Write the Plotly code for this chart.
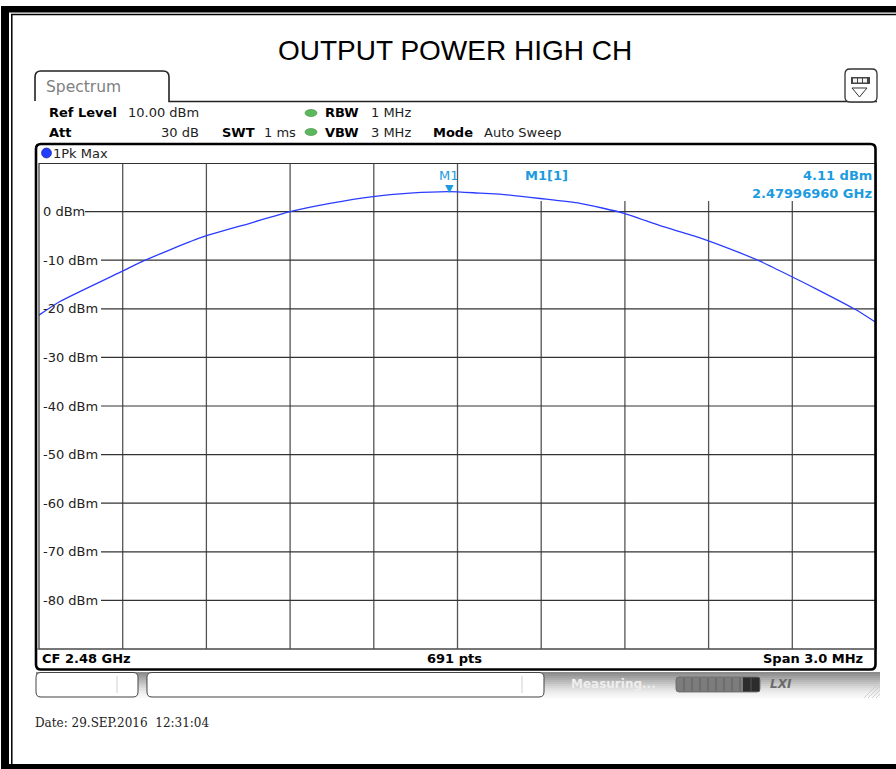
import plotly.graph_objects as go

# ---------------- data ----------------
freq_ghz = [2.478500, 2.478575, 2.478801, 2.478873, 2.479077, 2.479256, 2.479400,
            2.479543, 2.479697, 2.479830, 2.479970, 2.480081, 2.480152, 2.480296,
            2.480439, 2.480597, 2.480726, 2.480869, 2.481013, 2.481084, 2.481195,
            2.481299, 2.481425, 2.481500]
level_dbm = [-21.3, -18.5, -12.2, -10.2, -5.4, -2.4, 0.0,
             1.7, 3.1, 3.8, 4.11, 3.8, 3.6, 2.7,
             1.7, -0.35, -2.9, -5.4, -8.5, -10.2, -13.3,
             -16.3, -20.1, -22.8]
marker_freq_ghz = 2.47996960
marker_level_dbm = 4.11
y_tick_values = [0, -10, -20, -30, -40, -50, -60, -70, -80]
y_tick_labels = ["0 dBm", "-10 dBm", "-20 dBm", "-30 dBm", "-40 dBm",
                 "-50 dBm", "-60 dBm", "-70 dBm", "-80 dBm"]
x_grid_ghz = [2.4788, 2.4791, 2.4794, 2.4797, 2.4800, 2.4803, 2.4806, 2.4809, 2.4812]
x_range = [2.4785, 2.4815]
y_range = [-90, 10]

# ---------------- geometry helpers ----------------
W, H = 896, 769
L, R, T, B = 39, 876, 163, 649


def X(px):
    return (px - L) / (R - L)


def Y(py):
    return (B - py) / (B - T)


fig = go.Figure()

fig.add_trace(go.Scatter(
    x=freq_ghz, y=level_dbm, mode="lines",
    line=dict(color="#2b3cff", width=1.3, shape="spline", smoothing=0.6),
    hoverinfo="skip", showlegend=False))

shapes = []


def line(x0, y0, x1, y1, color="#000", width=1, layer="above"):
    shapes.append(dict(type="line", xref="paper", yref="paper",
                       x0=X(x0), y0=Y(y0), x1=X(x1), y1=Y(y1),
                       line=dict(color=color, width=width), layer=layer))


def rect(x0, y0, x1, y1, fill=None, color=None, width=0, layer="above"):
    shapes.append(dict(type="rect", xref="paper", yref="paper",
                       x0=X(x0), y0=Y(y0), x1=X(x1), y1=Y(y1),
                       fillcolor=fill if fill else "rgba(0,0,0,0)",
                       line=dict(color=color if color else "rgba(0,0,0,0)", width=width),
                       layer=layer))


def circle(x0, y0, x1, y1, fill, color, width=0.6):
    shapes.append(dict(type="circle", xref="paper", yref="paper",
                       x0=X(x0), y0=Y(y0), x1=X(x1), y1=Y(y1),
                       fillcolor=fill, line=dict(color=color, width=width), layer="above"))


def P(x, y):
    return f"{X(x):.6f},{Y(y):.6f}"


def rpath(x0, y0, x1, y1, r, color="#000", width=1, fill=None, layer="above"):
    d = (f"M {P(x0 + r, y0)} L {P(x1 - r, y0)} Q {P(x1, y0)} {P(x1, y0 + r)} "
         f"L {P(x1, y1 - r)} Q {P(x1, y1)} {P(x1 - r, y1)} "
         f"L {P(x0 + r, y1)} Q {P(x0, y1)} {P(x0, y1 - r)} "
         f"L {P(x0, y0 + r)} Q {P(x0, y0)} {P(x0 + r, y0)} Z")
    shapes.append(dict(type="path", xref="paper", yref="paper", path=d,
                       fillcolor=fill if fill else "rgba(0,0,0,0)",
                       line=dict(color=color, width=width), layer=layer))


def path(pts, color="#000", width=1, fill=None, closed=False):
    d = "M " + " L ".join(P(x, y) for x, y in pts) + (" Z" if closed else "")
    shapes.append(dict(type="path", xref="paper", yref="paper", path=d,
                       fillcolor=fill if fill else "rgba(0,0,0,0)",
                       line=dict(color=color, width=width), layer="above"))


# ---- outer frame ----
rect(1, 6, 896, 12.5, fill="#000")
line(11, 14.5, 896, 14.5, "#000", 1.5)
rect(1, 6, 9, 769, fill="#000")
line(11.8, 14, 11.8, 766, "#000", 1.5)
rect(1, 764, 896, 769, fill="#000")

# ---- tab "Spectrum" and header line ----
d = (f"M {P(35, 101)} L {P(35, 77)} Q {P(35, 71)} {P(41, 71)} L {P(163, 71)} "
     f"Q {P(169, 71)} {P(169, 77)} L {P(169, 101.5)} L {P(877, 101.5)}")
shapes.append(dict(type="path", xref="paper", yref="paper", path=d,
                   line=dict(color="#222", width=1.6), layer="above"))
# button top right
rpath(845, 69, 877, 102, 5, color="#333", width=1.3, fill="#ffffff")
rect(851, 77, 870, 84, fill="#444")
rect(853, 78.5, 857, 82.5, fill="#f4f4f4")
rect(858, 78.5, 862, 82.5, fill="#f4f4f4")
rect(863, 78.5, 867, 82.5, fill="#f4f4f4")
path([(852, 88), (867, 88), (859.5, 97)], color="#333", width=1, closed=True)

# ---- grid (below trace) ----
for gx in x_grid_ghz:
    top = 201 if gx > 2.48001 else 164
    shapes.append(dict(type="line", xref="x", yref="paper", x0=gx, x1=gx,
                       y0=Y(top), y1=Y(649), line=dict(color="#555", width=1.3),
                       layer="below"))
for gy, lab in zip(y_tick_values, y_tick_labels):
    start = 45 + 8 * len(lab)
    shapes.append(dict(type="line", xref="paper", yref="y", x0=X(start), x1=1,
                       y0=gy, y1=gy, line=dict(color="#333", width=1.2),
                       layer="below"))

# ---- panel frames ----
rect(39, 163.5, 876, 649, color="#333", width=1.2)
rpath(36, 144, 875.5, 669.5, 5, color="#000", width=2.6)
line(37, 649, 875, 649, "#555", 1.2)

# ---- status bar ----
grad = ["#8c8c8c", "#969696", "#a1a1a1", "#acacac", "#b7b7b7", "#c2c2c2", "#cdcdcd",
        "#d7d7d7", "#e0e0e0", "#e8e8e8", "#efefef", "#f4f4f4", "#f8f8f8"]
for i, c in enumerate(grad):
    rect(36, 672 + 2 * i, 880, 674 + 2 * i, fill=c)
rpath(36, 672.5, 138, 697, 5, color="#444", width=1, fill="#ffffff")
line(117, 676, 117, 693, "#d0d0d0", 1)
rpath(147, 672.5, 544, 697, 5, color="#444", width=1, fill="#ffffff")
line(522, 676, 522, 693, "#d0d0d0", 1)
rpath(676, 677, 760, 692, 3, color="#666", width=0.8, fill="#7c7c7c")
for sx in range(684, 744, 8):
    line(sx, 678, sx, 691, "#5e5e5e", 1)
rect(743, 677.5, 759.5, 691.5, fill="#2c2c2c")
line(751, 678, 751, 691, "#555", 1)
for k in range(5):
    line(864 + 4 * k, 698, 880, 682 + 4 * k, "#c8c8c8", 0.8)

# ---- dots ----
circle(305, 109.5, 317, 116.5, "#5cb85c", "#3d8a3d")
circle(305, 128.5, 317, 135.5, "#5cb85c", "#3d8a3d")
circle(41.5, 148, 51.5, 158, "#1f3cff", "#0b1a80")

fig.update_layout(shapes=shapes)

# ---------------- texts ----------------
FONT = "DejaVu Sans"


def txt(x, y, s, size=13, color="#000", bold=False, anchor="left", family=FONT, **kw):
    fig.add_annotation(x=X(x), y=Y(y), xref="paper", yref="paper",
                       text=("<b>" + s + "</b>") if bold else s, showarrow=False,
                       xanchor=anchor, yanchor="middle", borderpad=0,
                       font=dict(family=family, size=size, color=color), **kw)


txt(455, 51, "OUTPUT POWER HIGH CH", size=28, anchor="center", family="Liberation Sans")
txt(45, 87, "Spectrum", size=15.5, color="#808080")

txt(48, 113, "Ref Level", bold=True)
txt(127, 113, "10.00 dBm", color="#222")
txt(48, 132, "Att", bold=True)
txt(200, 132, "30 dB", color="#222", anchor="right")
txt(221, 132, "SWT", bold=True)
txt(263, 132, "1 ms", color="#222")
txt(324, 113, "RBW", bold=True)
txt(370, 113, "1 MHz", color="#222")
txt(324, 132, "VBW", bold=True)
txt(370, 132, "3 MHz", color="#222")
txt(432, 132, "Mode", bold=True)
txt(483, 132, "Auto Sweep", color="#222")
txt(52, 153, "1Pk Max", color="#222")

# y tick labels
for v, lab in zip(y_tick_values, y_tick_labels):
    fig.add_annotation(x=X(42), y=v, xref="paper", yref="y", text=lab,
                       showarrow=False, xanchor="left", yanchor="middle",
                       borderpad=0,
                       font=dict(family=FONT, size=13, color="#222"))

# marker
MC = "#1c9be0"
fig.add_annotation(x=marker_freq_ghz, y=Y(188.5), xref="x", yref="paper", text="▼",
                   showarrow=False, xanchor="center", yanchor="middle",
                   font=dict(family=FONT, size=11, color=MC))
fig.add_annotation(x=marker_freq_ghz, y=Y(175.5), xref="x", yref="paper", text="M1",
                   showarrow=False, xanchor="center", yanchor="middle",
                   font=dict(family=FONT, size=13, color=MC))
txt(524, 175.5, "M1[1]", color=MC, bold=True)
txt(873, 175.5, f"{marker_level_dbm:.2f} dBm", color=MC, bold=True, anchor="right")
txt(873, 193, f"{marker_freq_ghz:.8f} GHz", color=MC, bold=True, anchor="right")

# bottom bar
txt(41, 658.5, "CF 2.48 GHz", bold=True)
txt(454, 658.5, "691 pts", bold=True, anchor="center")
txt(864, 658.5, "Span 3.0 MHz", bold=True, anchor="right")

# status
txt(570, 684, "Measuring...", size=12, color="#eeeeee", bold=True)
txt(769, 684, "<i>LXI</i>", size=12, color="#6a6a6a", bold=True)

# date
txt(34, 723, "Date: 29.SEP.2016  12:31:04", size=12, color="#222", family="DejaVu Serif")

fig.update_layout(
    width=W, height=H, autosize=False,
    margin=dict(l=L, r=W - R, t=T, b=H - B, pad=0),
    paper_bgcolor="#ffffff", plot_bgcolor="#ffffff",
    showlegend=False,
    xaxis=dict(range=x_range, showgrid=False, zeroline=False, showticklabels=False,
               showline=False, fixedrange=True),
    yaxis=dict(range=y_range, showgrid=False, zeroline=False, showticklabels=False,
               showline=False, fixedrange=True),
)

fig.write_html("out.html", config={"displayModeBar": False},
               post_script="document.body.style.margin='0px';document.body.style.overflow='hidden';")
